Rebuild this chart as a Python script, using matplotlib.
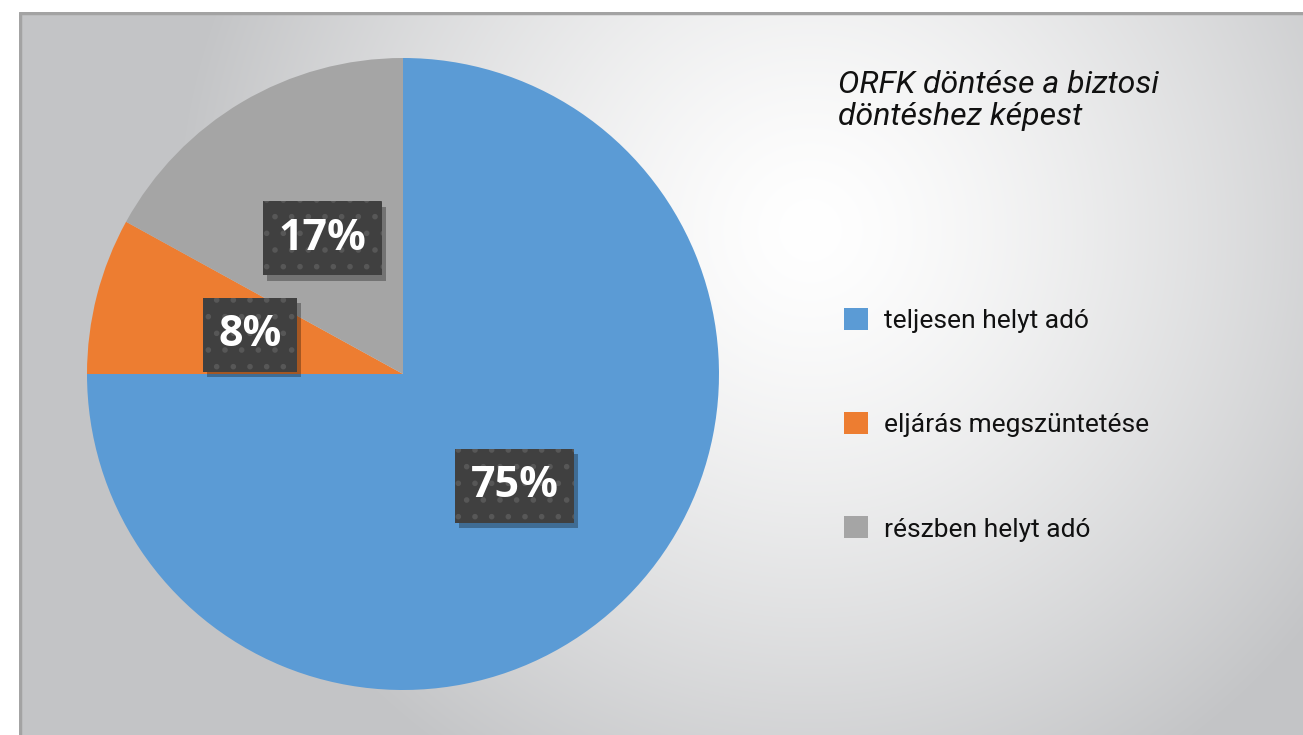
import numpy as np
import matplotlib.pyplot as plt
from matplotlib import patheffects as pe
from matplotlib.colors import to_rgb

labels = ['teljesen helyt adó', 'eljárás megszüntetése', 'részben helyt adó']
values = [75, 8, 17]
colors = ['#5B9BD5', '#ED7D31', '#A5A5A5']
title = 'ORFK döntése a biztosi\ndöntéshez képest'

W, H = 1303, 735
plt.rcParams['hatch.linewidth'] = 1.6


class PlainShadow(pe.SimplePatchShadow):
    # shadow without the hatch of the box
    def draw_path(self, renderer, gc, tpath, affine, rgbFace=None):
        gc2 = renderer.new_gc()
        gc2.copy_properties(gc)
        gc2.set_hatch(None)
        super().draw_path(renderer, gc2, tpath, affine, rgbFace)
        gc2.restore()


fig = plt.figure(figsize=(W / 100, H / 100), dpi=100)
fig.patch.set_facecolor('white')

# chart area with radial grey->white gradient
x0, y0 = 19, 12
bg = fig.add_axes([x0 / W, 0, (W - x0) / W, (H - y0) / H])
yy, xx = np.mgrid[y0:H, x0:W]
d = np.hypot(xx - 810, (yy - 230) * 1.0)
t = np.clip(d / 640, 0, 1) ** 1.35
c_in = np.array([1.0, 1.0, 1.0])
c_out = np.array(to_rgb('#c3c4c6'))
img = c_in[None, None, :] * (1 - t[..., None]) + c_out[None, None, :] * t[..., None]
bg.imshow(img, aspect='auto', extent=[0, 1, 0, 1], interpolation='bilinear')
bg.set_xlim(0, 1)
bg.set_ylim(0, 1)
bg.axis('off')
bg.plot([0.001, 0.001, 1], [0, 0.998, 0.998], color='#a3a3a3', lw=2.5,
        solid_capstyle='butt', transform=bg.transAxes)

ax = fig.add_axes([0, 0, 1, 1])
wedges, texts, autotexts = ax.pie(
    values, colors=colors, startangle=90, counterclock=False,
    center=(403, H - 374), radius=316, autopct='%d%%', pctdistance=0.5,
    wedgeprops=dict(linewidth=0), frame=True)
ax.set_xlim(0, W)
ax.set_ylim(0, H)
ax.set_aspect('equal')
ax.axis('off')

for at in autotexts:
    at.set_color('white')
    at.set_fontsize(31)
    at.set_fontweight('bold')
    at.set_family('Open Sans')
    at.set_bbox(dict(boxstyle='square,pad=0.36', facecolor='#404040',
                     edgecolor='#575757', linewidth=0, hatch='.'))
    at.get_bbox_patch().set_path_effects([
        PlainShadow(offset=(3, -4), shadow_rgbFace='black', alpha=0.3),
        pe.Normal()])

fig.text(838 / W, 1 - 70 / H, title, ha='left', va='top', fontsize=23,
         style='italic', family='Roboto', color='#111111', linespacing=1.12)

leg = ax.legend(wedges, labels, loc='upper left',
                bbox_to_anchor=(844 / W, 1 - 308 / H), bbox_transform=fig.transFigure,
                frameon=False, prop=dict(family='Roboto', size=19),
                handlelength=0.9, handleheight=0.9, handletextpad=0.6,
                labelspacing=3.0, borderpad=0, borderaxespad=0)
for txt in leg.get_texts():
    txt.set_color('#111111')

fig.savefig('out.png', dpi=100)
